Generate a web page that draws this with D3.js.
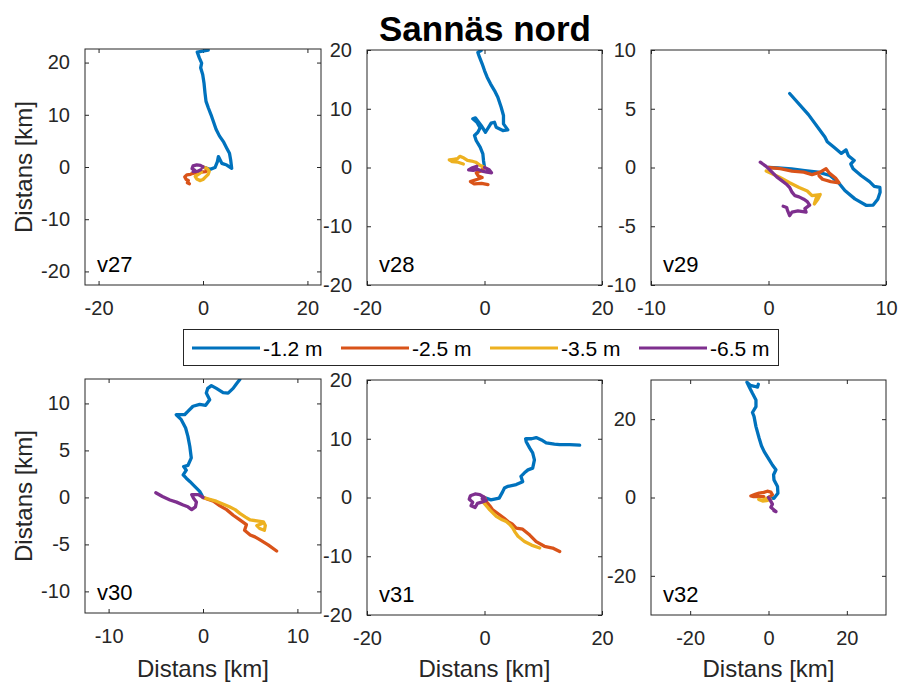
<!DOCTYPE html>
<html><head><meta charset="utf-8">
<script src="https://cdn.jsdelivr.net/npm/d3@7/dist/d3.min.js"></script>
<style>
body{margin:0;background:#fff}
svg{display:block}
text{font-family:"Liberation Sans",Arial,Helvetica,sans-serif}
</style>
</head><body>
<svg id="chart" width="899" height="686"></svg>
<script>
// ---------- data ----------
const title = "Sannäs nord";
const axisLabel = "Distans [km]";
const depths = ["-1.2 m", "-2.5 m", "-3.5 m", "-6.5 m"];
const weeks = ["v27", "v28", "v29", "v30", "v31", "v32"];

// v27
const v27_d12 = [[0,0],[1.35,-0.45],[2.3,-0.1],[2.76,1.03],[2.95,1.99],[3.6,0.7],[4.55,0.38],[5.5,-0.26],[5.3,1.35],[5.07,2.63],[4.55,3.6],[3.9,4.87],[3.14,5.96],[2.5,7.24],[1.99,8.7],[1.54,10],[1.03,11.3],[0.58,12.56],[0.38,14.2],[0.19,16.1],[-0.06,17.7],[-0.45,19],[-0.26,19.9],[-0.7,20.9],[-1.1,22],[-0.1,22.2],[1.0,22.4]];
const v27_d25 = [[0,0],[0.9,-0.4],[0.5,-0.9],[-0.4,-1.0],[-1.3,-1.1],[-1.9,-1.2],[-2.4,-1.4],[-3.1,-1.5],[-3.5,-1.9],[-3.2,-2.4],[-2.8,-2.6],[-3.0,-3.0],[-2.6,-3.2]];
const v27_d35 = [[0,0],[0.8,-0.3],[1.2,-0.8],[1.0,-1.4],[0.5,-1.9],[0,-2.4],[-0.6,-2.6],[-1.2,-2.3],[-1.5,-1.8],[-0.9,-1.4],[-0.3,-1.0]];
const v27_d65 = [[0,0],[-0.5,0.3],[-1.2,0.4],[-1.9,0.2],[-2.1,-0.3],[-1.6,-0.6],[-1.9,-0.9],[-1.0,-0.8],[-0.4,-0.5]];
// v28
const v28_d12 = [[0,0.06],[-0.17,1.19],[-0.28,2.33],[-0.74,3.46],[-1.42,4.6],[-1.7,5.45],[-1.13,6.0],[-0.74,6.75],[-1.3,7.7],[-1.99,8.28],[-1.53,8.45],[-0.57,7.15],[0.17,6.0],[1.13,7.55],[1.7,7.7],[1.99,6.86],[3.12,6.3],[3.97,6.4],[3.23,7.43],[3.23,8.85],[2.84,10.26],[2.27,11.97],[1.7,13.1],[1.02,14.24],[0.45,15.37],[0,16.5],[-0.4,17.65],[-0.85,18.77],[-1.13,19.6],[-0.57,19.9]];
const v28_d25 = [[0,0],[-0.6,-0.6],[-1.4,-0.9],[-1.1,-1.4],[-0.4,-1.7],[-1.2,-2.0],[-2.4,-2.4],[-1.7,-2.8],[-0.5,-2.7],[0.6,-2.9]];
const v28_d35 = [[0,0],[-0.8,0.4],[-1.5,0.9],[-2.2,1.1],[-2.9,1.2],[-3.5,1.6],[-4.2,1.9],[-4.6,1.5],[-5.3,1.4],[-6.0,1.3],[-5.5,1.0],[-4.5,0.9],[-3.6,0.6]];
const v28_d65 = [[0,0],[0.8,-0.4],[1.2,-0.9],[0.4,-0.8],[-0.4,-0.6],[-1.2,-0.3],[-1.9,-0.5],[-2.7,-0.4],[-2.2,-0.1],[-1.3,0.2]];
// v29
const v29_d12 = [[0,0],[0.83,-0.03],[1.96,-0.11],[3.09,-0.26],[4.23,-0.4],[5.22,-0.68],[5.93,-1.25],[6.5,-1.96],[7.35,-2.67],[8.34,-3.23],[8.91,-3.2],[9.3,-2.7],[9.5,-2.1],[9.48,-1.7],[9.0,-1.6],[8.6,-1.2],[7.9,-0.7],[7.2,-0.1],[7.0,0.3],[7.3,0.6],[6.8,1.0],[6.6,1.5],[6.2,1.2],[5.6,1.7],[5.0,2.2],[4.8,2.6],[3.4,4.5],[1.8,6.3]];
const v29_d25 = [[0,0],[1.0,-0.1],[2.0,-0.3],[3.0,-0.4],[3.7,-0.6],[4.4,-0.4],[4.9,-0.1],[5.2,-0.5],[5.7,-0.9],[6.0,-1.3],[5.3,-1.2],[4.6,-1.0],[4.3,-0.7]];
const v29_d35 = [[-0.2,-0.3],[0.9,-0.8],[1.8,-1.3],[2.6,-1.7],[3.3,-2.0],[3.7,-2.4],[4.4,-2.3],[4.2,-2.7],[3.9,-3.1],[4.1,-2.5]];
const v29_d65 = [[-0.7,0.45],[-0.2,0.1],[0.3,-0.4],[0.7,-0.8],[1.1,-1.1],[1.5,-1.4],[1.8,-1.7],[2.0,-2.1],[2.25,-2.4],[2.6,-2.5],[3.0,-2.7],[3.3,-2.9],[3.5,-3.2],[3.1,-3.5],[3.2,-3.8],[2.5,-3.7],[2.0,-3.8],[1.8,-4.1],[1.6,-3.6],[1.55,-3.4],[1.25,-3.3]];
// v30
const v30_d12 = [[0,0],[-0.35,0.64],[-0.88,1.17],[-1.4,1.7],[-1.77,2.04],[-2.1,2.4],[-1.77,2.9],[-2.05,3.28],[-1.6,3.4],[-1.24,4.2],[-1.4,5.44],[-1.6,6.5],[-1.84,7.38],[-2.3,8.27],[-2.83,8.8],[-1.95,8.8],[-1.6,9.15],[-1.06,9.7],[-0.35,9.9],[0.28,9.8],[0.71,10.4],[0.35,11.1],[0.5,11.6],[0.89,11.9],[1.42,11.6],[2.13,11.15],[2.66,11.1],[3.19,11.6],[3.55,12.1],[3.9,12.55]];
const v30_d25 = [[0,0],[0.5,-0.2],[1.1,-0.4],[1.8,-0.9],[2.5,-1.3],[3.2,-1.9],[3.9,-2.4],[4.6,-2.9],[4.4,-3.5],[5.0,-4.0],[5.5,-4.2],[6.0,-4.5],[6.9,-5.05],[7.8,-5.7]];
const v30_d35 = [[0,0],[0.7,-0.2],[1.4,-0.4],[2.1,-0.7],[2.8,-1.0],[3.4,-1.3],[3.9,-1.7],[4.5,-2.1],[5.0,-2.4],[5.7,-2.5],[6.4,-2.6],[6.6,-3.0],[6.5,-3.5],[6.0,-3.3],[5.7,-3.0],[6.2,-2.8]];
const v30_d65 = [[0,0],[-0.5,0.3],[-1.2,0.3],[-1.0,-0.1],[-0.7,-0.5],[-0.8,-1.0],[-1.2,-1.3],[-1.6,-1.0],[-2.1,-0.8],[-2.8,-0.5],[-3.5,-0.27],[-4.3,0.1],[-5.0,0.5]];
// v31
const v31_d12 = [[0,0],[1.1,-0.4],[2.5,-0.1],[3.1,1.0],[3.4,1.6],[4.0,1.9],[5.4,2.2],[6.5,2.7],[6.2,3.6],[6.8,4.2],[7.4,4.7],[8.2,5.0],[8.5,6.4],[8.2,7.6],[7.7,8.4],[7.1,9.5],[7.0,10.0],[8.0,10.0],[8.8,10.2],[9.7,9.8],[10.5,9.3],[11.9,9.1],[12.8,9.0],[14.5,9.0],[16.2,8.9]];
const v31_d25 = [[0,0],[0.3,-0.7],[0.9,-1.4],[1.4,-2.1],[2.5,-2.9],[3.3,-3.5],[4.0,-4.1],[4.7,-4.5],[5.4,-5.2],[6.5,-5.4],[7.7,-6.4],[8.8,-7.5],[10.2,-8.3],[11.6,-8.6],[12.8,-9.2]];
const v31_d35 = [[0,0],[-0.3,-0.7],[0.3,-1.4],[0.9,-2.1],[2.0,-3.2],[3.0,-3.8],[3.7,-4.1],[4.3,-4.6],[4.8,-5.2],[5.2,-5.9],[5.7,-6.6],[6.8,-7.5],[8.0,-8.1],[9.4,-8.6]];
const v31_d65 = [[0,0],[-0.8,0.5],[-1.6,0.6],[-2.4,0.3],[-2.6,-0.3],[-2.0,-0.8],[-2.3,-1.4],[-1.6,-1.7],[-1.2,-1.0],[-0.5,-0.8],[0.3,-0.5],[-0.4,-0.2]];
// v32
const v32_d12 = [[0,0],[1.4,-0.2],[2.4,1.1],[2.3,2.8],[1.4,4.5],[1.3,5.8],[1.9,7.1],[1.0,8.3],[0.2,9.6],[-1.1,11.7],[-1.8,13.2],[-2.4,15.2],[-3.2,18.1],[-3.7,20.7],[-4.1,21.7],[-3.2,23.2],[-3.2,24.9],[-4.1,26.6],[-4.95,28.3],[-5.5,29.4],[-4.6,28.6],[-3.6,28.4],[-2.8,28.2],[-2.6,28.9]];
const v32_d25 = [[0,0],[1.0,0.7],[0.6,1.4],[-0.3,1.6],[-1.2,1.3],[-2.4,1.1],[-3.4,0.8],[-4.5,0.4],[-3.8,0.2],[-2.5,0.3],[-1.2,0.2]];
const v32_d35 = [[0,0],[-0.8,-0.4],[-1.7,-0.7],[-2.5,-0.5],[-1.5,-0.9],[-0.5,-0.8],[0.5,-0.5]];
const v32_d65 = [[0,0],[0.5,-0.8],[1.0,-1.7],[0.6,-2.5],[1.2,-3.0],[1.9,-3.6],[1.4,-3.4]];

// axis limits and ticks per panel
const xLims = [[-22.6,22.6],[-20,20],[-10,10],[-12.5,12.5],[-20,20],[-30,30]];
const yLims = [[-22.6,22.6],[-20,20],[-10,10],[-12.3,12.6],[-20,20],[-30,30]];
const xTicks = [[-20,0,20],[-20,0,20],[-10,0,10],[-10,0,10],[-20,0,20],[-20,0,20]];
const yTicks = [[-20,-10,0,10,20],[-20,-10,0,10,20],[-10,-5,0,5,10],[-10,-5,0,5,10],[-20,-10,0,10,20],[-20,0,20]];
const seriesByWeek = [
  [v27_d12, v27_d25, v27_d35, v27_d65],
  [v28_d12, v28_d25, v28_d35, v28_d65],
  [v29_d12, v29_d25, v29_d35, v29_d65],
  [v30_d12, v30_d25, v30_d35, v30_d65],
  [v31_d12, v31_d25, v31_d35, v31_d65],
  [v32_d12, v32_d25, v32_d35, v32_d65]
];

// ---------- layout & style ----------
const colors = ["#0072BD", "#D95319", "#EDB120", "#7E2F8E"];
const boxes = [
  {x:85, y:49, w:236, h:236},
  {x:367, y:50, w:235, h:235},
  {x:651, y:50, w:235, h:235},
  {x:85, y:379, w:236, h:234},
  {x:367, y:380, w:235, h:235},
  {x:651, y:380, w:235, h:235}
];
const axisCol = "#262626";
const fontTick = 20;
const fmt = d => String(d);
const svg = d3.select("#chart");

svg.append("text").attr("x", 485).attr("y", 41).attr("text-anchor", "middle")
  .attr("font-size", 35).attr("font-weight", "bold").attr("fill", "#000").text(title);

weeks.forEach((wk, i) => {
  const b = boxes[i];
  const g = svg.append("g").attr("transform", `translate(${b.x},${b.y})`);
  const xs = d3.scaleLinear().domain(xLims[i]).range([0, b.w]);
  const ys = d3.scaleLinear().domain(yLims[i]).range([b.h, 0]);
  g.append("clipPath").attr("id", "clip" + i).append("rect").attr("width", b.w).attr("height", b.h);

  const mk = (ax, tr) => {
    const a = g.append("g").attr("transform", tr).call(ax);
    a.select(".domain").remove();
    a.selectAll(".tick line").attr("stroke", axisCol);
    a.selectAll("text").attr("fill", axisCol).attr("font-size", fontTick)
      .attr("font-family", '"Liberation Sans",Arial,sans-serif');
    return a;
  };
  mk(d3.axisBottom(xs).tickValues(xTicks[i]).tickSize(-4).tickPadding(16).tickFormat(fmt), `translate(0,${b.h})`);
  mk(d3.axisLeft(ys).tickValues(yTicks[i]).tickSize(-4).tickPadding(15).tickFormat(fmt), "translate(0,0)");
  const t1 = mk(d3.axisTop(xs).tickValues(xTicks[i]).tickSize(-4), "translate(0,0)");
  t1.selectAll("text").remove();
  const t2 = mk(d3.axisRight(ys).tickValues(yTicks[i]).tickSize(-4), `translate(${b.w},0)`);
  t2.selectAll("text").remove();

  const line = d3.line().x(d => xs(d[0])).y(d => ys(d[1])).curve(d3.curveLinear);
  const pg = g.append("g").attr("clip-path", `url(#clip${i})`);
  seriesByWeek[i].forEach((s, k) => {
    pg.append("path").datum(s).attr("d", line).attr("fill", "none")
      .attr("stroke", colors[k]).attr("stroke-width", 3.3)
      .attr("stroke-linejoin", "round").attr("stroke-linecap", "round");
  });

  g.append("rect").attr("width", b.w).attr("height", b.h).attr("fill", "none")
    .attr("stroke", axisCol).attr("stroke-width", 1);

  g.append("text").attr("x", 12).attr("y", b.h - 13).attr("font-size", 22).attr("fill", "#000").text(wk);

  if (i % 3 === 0) {
    svg.append("text").attr("transform", `translate(32,${b.y + b.h / 2}) rotate(-90)`)
      .attr("text-anchor", "middle").attr("font-size", 24).attr("fill", axisCol).text(axisLabel);
  }
  if (i >= 3) {
    svg.append("text").attr("x", b.x + b.w / 2).attr("y", 677).attr("text-anchor", "middle")
      .attr("font-size", 24).attr("fill", axisCol).text(axisLabel);
  }
});

// legend
const lg = svg.append("g");
lg.append("rect").attr("x", 183.5).attr("y", 329.5).attr("width", 595).attr("height", 36)
  .attr("fill", "#fff").attr("stroke", axisCol).attr("stroke-width", 1);
const legX = [192, 341, 490, 639];
depths.forEach((d, k) => {
  lg.append("line").attr("x1", legX[k]).attr("x2", legX[k] + 68).attr("y1", 348).attr("y2", 348)
    .attr("stroke", colors[k]).attr("stroke-width", 3);
  lg.append("text").attr("x", legX[k] + 71).attr("y", 355.5).attr("font-size", 21).attr("fill", "#000").text(d);
});
</script>
</body></html>
